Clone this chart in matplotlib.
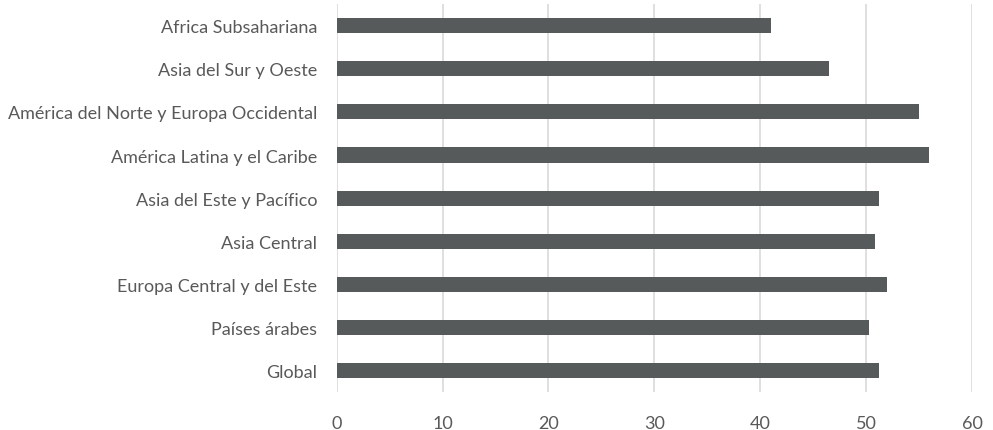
import matplotlib
matplotlib.use("Agg")
import matplotlib.pyplot as plt

regions = [
    "Global",
    "Países árabes",
    "Europa Central y del Este",
    "Asia Central",
    "Asia del Este y Pacífico",
    "América Latina y el Caribe",
    "América del Norte y Europa Occidental",
    "Asia del Sur y Oeste",
    "Africa Subsahariana",
]
values = [51.2, 50.3, 52.0, 50.8, 51.2, 55.9, 55.0, 46.5, 41.0]
x_ticks = [0, 10, 20, 30, 40, 50, 60]

plt.rcParams["font.family"] = ["Lato", "DejaVu Sans"]
text_color = "#595959"

fig = plt.figure(figsize=(9.93, 4.31), dpi=100)
ax = fig.add_axes([0.339, 0.088, 0.640, 0.900])

ax.barh(range(len(regions)), values, height=0.35, color="#575a5b", zorder=3)

ax.set_xlim(0, 60)
ax.set_ylim(-0.5, len(regions) - 0.5)
ax.set_xticks(x_ticks)
ax.set_xticklabels([str(t) for t in x_ticks])
ax.set_yticks(range(len(regions)))
ax.set_yticklabels(regions)

ax.grid(axis="x", color="#d9d9d9", linewidth=1.2, zorder=0)
for s in ax.spines.values():
    s.set_visible(False)
ax.tick_params(axis="both", length=0, labelsize=13, colors=text_color)
ax.tick_params(axis="x", pad=16.5)
ax.tick_params(axis="y", pad=14)

fig.savefig("out.png", dpi=100)
